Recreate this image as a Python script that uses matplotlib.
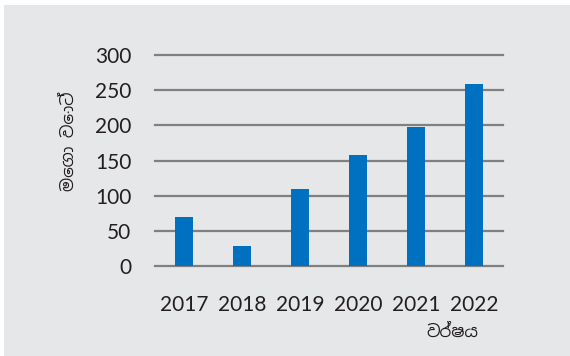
import matplotlib
matplotlib.use('Agg')
import matplotlib.pyplot as plt
from matplotlib.patches import Rectangle

years = ['2017', '2018', '2019', '2020', '2021', '2022']
megawatts = [70, 28, 109, 158, 198, 259]
y_ticks = [0, 50, 100, 150, 200, 250, 300]

bg = '#e6e7e9'
bar_color = '#0070c0'
grid_color = '#808080'
text_color = '#231f20'

fig = plt.figure(figsize=(5.7, 3.56), dpi=100)
fig.patch.set_facecolor('white')
fig.patches.append(Rectangle((4 / 570, 0), 1, 1 - 5 / 356, transform=fig.transFigure,
                             facecolor=bg, edgecolor='none', zorder=-10))

ax = fig.add_axes([155 / 570, 1 - 266 / 356, 348 / 570, 211 / 356])
ax.set_facecolor('none')
ax.bar(range(len(years)), megawatts, width=0.31, color=bar_color, zorder=3)
ax.set_xlim(-0.5, len(years) - 0.5)
ax.set_ylim(0, 300)
ax.set_yticks(y_ticks)
ax.set_xticks(range(len(years)))
ax.set_xticklabels(years)
ax.yaxis.grid(True, color=grid_color, linewidth=1.6, zorder=1)
for line in ax.get_ygridlines():
    line.set_clip_on(False)
ax.set_axisbelow(True)
for s in ax.spines.values():
    s.set_visible(False)
ax.tick_params(length=0, labelsize=15, labelcolor=text_color)
ax.tick_params(axis='y', pad=17)
ax.tick_params(axis='x', pad=21)
for lab in ax.get_xticklabels() + ax.get_yticklabels():
    lab.set_family(['Lato', 'DejaVu Sans'])

fig.text(70 / 570, 1 - 141 / 356, 'මෙගා වොට්', rotation=90, ha='center', va='center',
         fontsize=12, color=text_color, family=['Noto Sans Sinhala', 'DejaVu Sans'])
fig.text(452 / 570, 1 - 333 / 356, 'වර්ෂය', ha='center', va='center',
         fontsize=12, color=text_color, family=['Noto Sans Sinhala', 'DejaVu Sans'])

fig.savefig('out.png', dpi=100, facecolor=fig.get_facecolor())
